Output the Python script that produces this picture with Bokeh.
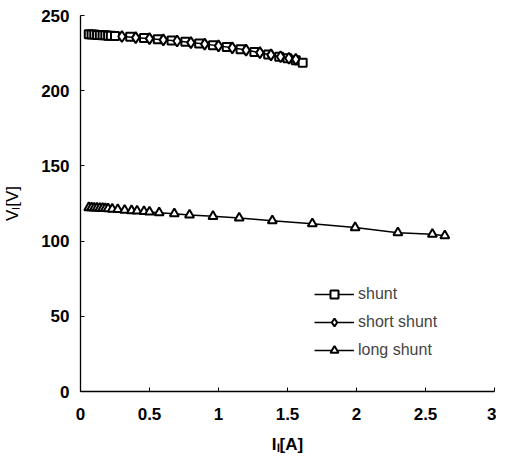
from bokeh.plotting import figure
from bokeh.models import Range1d, FixedTicker, Legend, LegendItem
from bokeh.embed import file_html
from bokeh.resources import INLINE

# data
shunt_I = [0.06, 0.08, 0.10, 0.12, 0.14, 0.16, 0.18, 0.20, 0.22, 0.25, 0.36, 0.46, 0.56, 0.66, 0.76,
           0.86, 0.96, 1.06, 1.16, 1.26, 1.36, 1.44, 1.50, 1.56, 1.61]
shunt_V = [237.6, 237.4, 237.3, 237.1, 237.0, 236.9, 236.8, 236.6, 236.5, 236.3, 235.8, 235.0, 234.2,
           233.4, 232.5, 231.4, 230.2, 229.0, 227.5, 225.8, 224.0, 222.6, 221.5, 220.3, 218.6]
short_I = [0.30, 0.40, 0.50, 0.60, 0.70, 0.80, 0.90, 1.00, 1.10, 1.20, 1.30, 1.38, 1.45, 1.51, 1.56]
short_V = [236.0, 235.3, 234.6, 233.8, 233.0, 232.0, 231.0, 229.8, 228.5, 227.0, 225.3, 223.8, 222.6,
           221.6, 220.8]
long_I = [0.06, 0.08, 0.10, 0.12, 0.14, 0.16, 0.18, 0.20, 0.23, 0.27, 0.32, 0.37, 0.41, 0.46, 0.50,
          0.57, 0.68, 0.79, 0.96, 1.15, 1.39, 1.68, 1.99, 2.30, 2.55, 2.64]
long_V = [122.3, 122.2, 122.1, 122.0, 121.9, 121.8, 121.7, 121.5, 121.3, 121.0, 120.6, 120.3, 120.0,
          119.7, 119.4, 118.9, 118.2, 117.4, 116.5, 115.4, 113.6, 111.6, 109.0, 105.6, 104.6, 103.6]

x_ticks = [0, 0.5, 1, 1.5, 2, 2.5, 3]
y_ticks = [0, 50, 100, 150, 200, 250]
x_title = "I\u2097[A]"
y_title = "V\u2097[V]"

W, H = 496, 457
p = figure(width=W, height=H, output_backend="svg", toolbar_location=None,
           x_range=Range1d(0, 3), y_range=Range1d(0, 250),
           min_border_left=78, min_border_right=2, min_border_top=15, min_border_bottom=66)
p.outline_line_color = None
p.grid.grid_line_color = None
p.background_fill_color = "white"

for ax in (p.xaxis, p.yaxis):
    ax.major_tick_in = 4
    ax.major_tick_out = 0
    ax.minor_tick_line_color = None
    ax.axis_line_color = "black"
    ax.axis_line_width = 1.3
    ax.major_tick_line_color = "black"
    ax.major_label_text_font = "Liberation Sans"
    ax.major_label_text_font_size = "17px"
    ax.major_label_text_font_style = "bold"
    ax.major_label_text_color = "black"
    ax.axis_label_text_font = "Liberation Sans"
    ax.axis_label_text_font_size = "17px"
    ax.axis_label_text_color = "black"
p.xaxis.ticker = FixedTicker(ticks=x_ticks)
p.yaxis.ticker = FixedTicker(ticks=y_ticks)
p.xaxis.major_label_standoff = 16
p.yaxis.major_label_standoff = 11
p.xaxis.axis_label = x_title
p.yaxis.axis_label = y_title
p.xaxis.axis_label_text_font_style = "bold"
p.yaxis.axis_label_text_font_style = "normal"
p.xaxis.axis_label_standoff = 12
p.yaxis.axis_label_standoff = 16

l1 = p.line(shunt_I, shunt_V, line_color="black", line_width=1.5)
s1 = p.scatter(shunt_I, shunt_V, marker="square", size=8, line_color="black", line_width=2,
               fill_color="white")
l2 = p.line(short_I, short_V, line_color="black", line_width=1.5)
s2 = p.scatter(short_I, short_V, marker="diamond", size=11, line_color="black", line_width=2,
               fill_color="white")
l3 = p.line(long_I, long_V, line_color="black", line_width=1.5)
s3 = p.scatter(long_I, long_V, marker="triangle", size=9, line_color="black", line_width=2,
               fill_color="white")

legend = Legend(items=[LegendItem(label="shunt", renderers=[l1, s1]),
                       LegendItem(label="short shunt", renderers=[l2, s2]),
                       LegendItem(label="long shunt", renderers=[l3, s3])],
                location=(234, 31), border_line_color=None, background_fill_alpha=0,
                label_text_font="Liberation Sans", label_text_font_size="16px",
                spacing=8, glyph_width=40, glyph_height=20, label_standoff=4, padding=4)
p.add_layout(legend)

open("out.html", "w").write(file_html(p, INLINE))
